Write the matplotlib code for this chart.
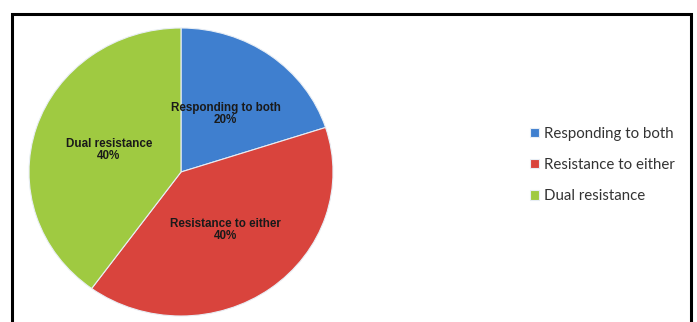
import matplotlib.pyplot as plt
from matplotlib.patches import Rectangle

# dane wykresu
categories = ["Responding to both", "Resistance to either", "Dual resistance"]
shares = [20, 40, 40]
colors = ["#3f7fcf", "#d9443d", "#9fca41"]

fig = plt.figure(figsize=(6.97, 3.22), dpi=100)
fig.patch.set_facecolor("white")

# ramka dookoła wykresu (ucięta u dołu)
fig.patches.append(Rectangle((12 / 697, -0.05), (691 - 12) / 697, 1 - 13.5 / 322 + 0.05,
                             transform=fig.transFigure, fill=False, edgecolor="black",
                             linewidth=2.2, clip_on=False))

ax = fig.add_axes([(181 - 152) / 697, 1 - 316 / 322, 304 / 697, 288 / 322])


def make_label(pct, it=iter(categories)):
    return f"{next(it)}\n{pct:.0f}%"


wedges, texts, autotexts = ax.pie(
    shares,
    colors=colors,
    startangle=90,
    counterclock=False,
    autopct=make_label,
    pctdistance=0.5,
    wedgeprops=dict(edgecolor="#e8eef5", linewidth=0.8),
    textprops=dict(fontsize=8.4, fontweight="bold", color="#1a1a1a",
                   family="Liberation Sans", linespacing=1.0),
)
ax.set_aspect("auto")
ax.set_xlim(-1.0, 1.0)
ax.set_ylim(-1.0, 1.0)

# legenda po prawej
ax.legend(
    wedges, categories,
    loc="center left",
    bbox_to_anchor=(516 / 697, 1 - 165 / 322),
    bbox_transform=fig.transFigure,
    frameon=False,
    prop=dict(family="Lato", size=10.8),
    handlelength=0.6,
    handleheight=0.6,
    handletextpad=0.4,
    labelspacing=1.15,
    labelcolor="#333333",
)

fig.savefig("out.png", dpi=100, facecolor="white")
